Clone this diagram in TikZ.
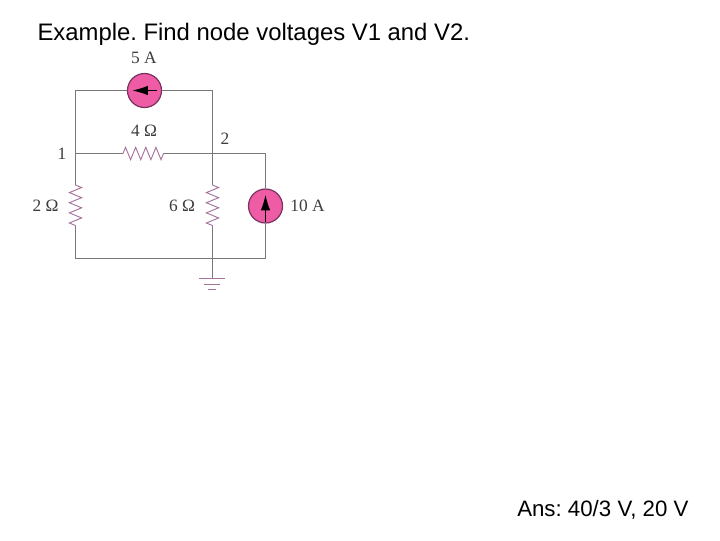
\documentclass[tikz,border=0pt]{standalone}
\usepackage{fontspec}
\setmainfont{Liberation Serif}
\newfontfamily\titlefont{Liberation Sans}
\usetikzlibrary{arrows.meta,decorations.pathmorphing}
\definecolor{wirecol}{RGB}{120,120,120}
\definecolor{rescol}{RGB}{165,115,155}
\definecolor{srcfill}{RGB}{238,92,165}
\definecolor{srcedge}{RGB}{120,50,95}
\definecolor{labelcol}{RGB}{60,60,60}
\tikzset{every picture/.style={line width=0.75pt}}
\tikzset{
  wire/.style={draw=wirecol,line width=0.8pt},
  resistor/.style={draw=rescol,line width=0.7pt,decorate,decoration={zigzag,segment length=7.6pt,amplitude=4.6pt}},
  source/.style={circle,draw=srcedge,fill=srcfill,line width=0.9pt,minimum size=25.5pt,inner sep=0pt},
  srcarrow/.style={draw=black,line width=0.6pt,-{Latex[length=11.5pt,width=7pt]}},
  complabel/.style={text=labelcol,font=\fontsize{13pt}{15pt}\selectfont,inner sep=0pt},
  slidetext/.style={text=black,font=\titlefont\frenchspacing\fontsize{17.9pt}{20pt}\selectfont,inner sep=0pt},
  anstext/.style={text=black,font=\titlefont\frenchspacing\fontsize{16.7pt}{20pt}\selectfont,inner sep=0pt}
}
\begin{document}
\begin{tikzpicture}[x=0.75pt,y=0.75pt,yscale=-1]
\useasboundingbox (0,0) rectangle (720,540);

%Corners and junctions
\coordinate (topleft) at (75.5,90.5);
\coordinate (topmid) at (212.5,90.5);
\coordinate (nodeone) at (75.5,153.5);
\coordinate (nodetwo) at (212.5,153.5);
\coordinate (midright) at (265.5,153.5);
\coordinate (botleft) at (75.5,258.5);
\coordinate (botmid) at (212.5,258.5);
\coordinate (botright) at (265.5,258.5);
\coordinate (gnd) at (212.5,278);
%Resistor ends
\coordinate (rfourA) at (123,153.5);
\coordinate (rfourB) at (164,153.5);
\coordinate (rtwoA) at (75.5,185);
\coordinate (rtwoB) at (75.5,227);
\coordinate (rsixA) at (212.5,185);
\coordinate (rsixB) at (212.5,227);

%Sources
\node [source] (sfive) at (144.5,90.5) {};
\node [source] (sten) at (265.5,206) {};

%Straight Lines
\draw [wire] (sfive) -- (topleft) -- (rtwoA);
\draw [wire] (sfive) -- (topmid) -- (rsixA);
\draw [wire] (nodeone) -- (rfourA);
\draw [wire] (rfourB) -- (midright) -- (sten);
\draw [wire] (rtwoB) -- (botleft) -- (botright) -- (sten);
\draw [wire] (rsixB) -- (gnd);

%Resistors
\draw [resistor] (rfourA) -- (rfourB);
\draw [resistor] (rtwoA) -- (rtwoB);
\draw [resistor] (rsixA) -- (rsixB);

%Source arrows
\coordinate (sfiveR) at (157,90.5);
\coordinate (sfiveL) at (132.5,90.5);
\coordinate (stenB) at (265.5,222);
\coordinate (stenT) at (265.5,195);
\draw [srcarrow] (sfiveR) -- (sfiveL);
\draw [srcarrow] (stenB) -- (stenT);

%Ground
\coordinate (gndaL) at (199,278.5);
\coordinate (gndaR) at (225,278.5);
\coordinate (gndbL) at (204,284);
\coordinate (gndbR) at (220,284);
\coordinate (gndcL) at (208,289);
\coordinate (gndcR) at (216,289);
\draw [draw=rescol] (gndaL) -- (gndaR);
\draw [draw=rescol] (gndbL) -- (gndbR);
\draw [draw=rescol] (gndcL) -- (gndcR);

%Labels
\node [complabel] (lfive) at (144,58) {5 A};
\node [complabel] (lfour) at (144,130.5) {4 Ω};
\node [complabel] (lone) at (62,154) {1};
\node [complabel] (ltwo) at (225,139) {2};
\node [complabel] (ltwoohm) at (45.5,206) {2 Ω};
\node [complabel] (lsix) at (182,206) {6 Ω};
\node [complabel] (lten) at (307.5,206) {10 A};

%Slide text
\node [slidetext,anchor=west] (title) at (37,34) {Example. Find node voltages V1 and V2.};
\node [anstext,anchor=east] (answer) at (689,510) {Ans: 40/3 V, 20 V};

\end{tikzpicture}
\end{document}
